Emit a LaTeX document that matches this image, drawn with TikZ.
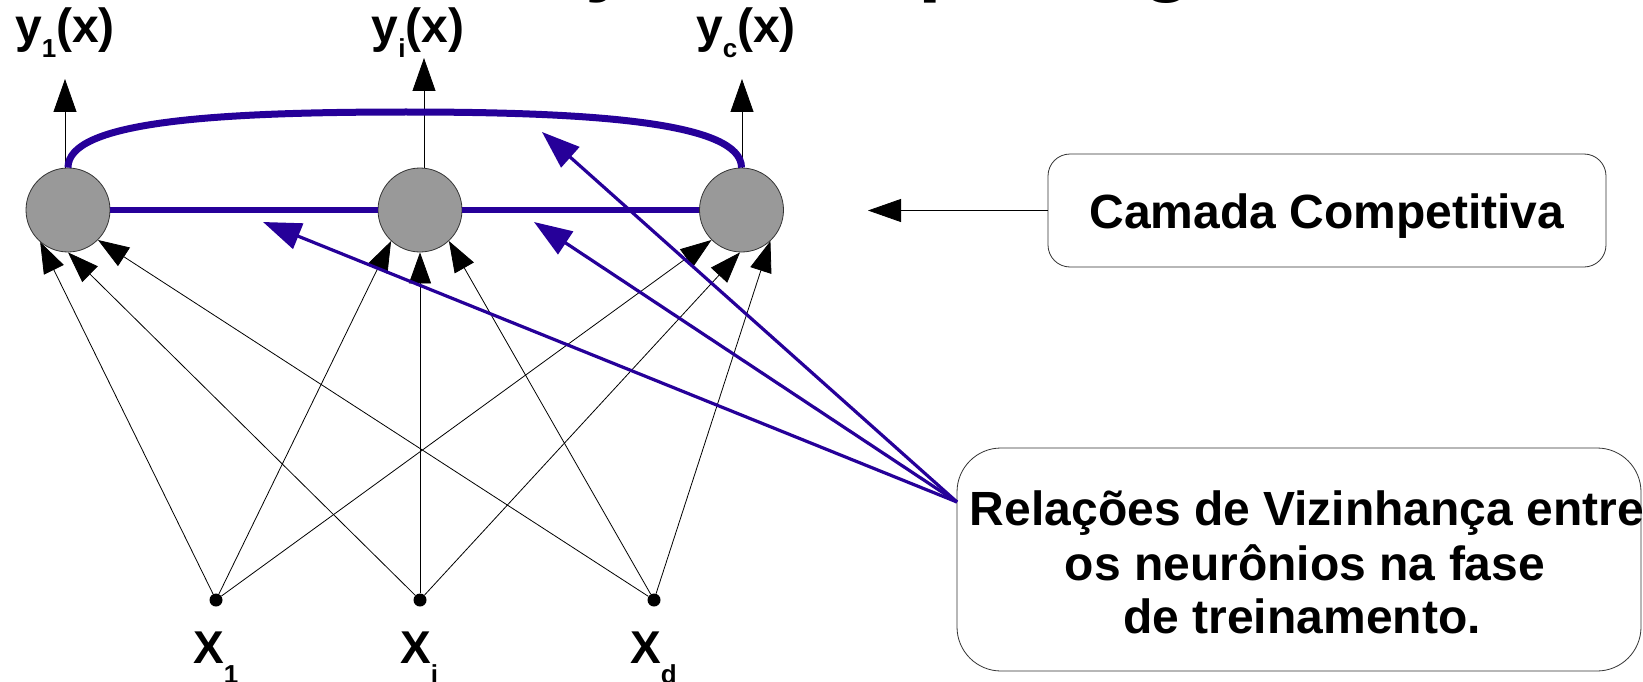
\documentclass[tikz,border=0pt]{standalone}
\usepackage{fontspec}
\setmainfont{Liberation Sans}
\usetikzlibrary{arrows.meta}
\definecolor{nblue}{RGB}{38,0,153}
\definecolor{ngray}{RGB}{153,153,153}
\newcommand{\lowsub}[2]{\raisebox{-#1pt}{\fontsize{26}{26}\selectfont #2}}
\begin{document}
\begin{tikzpicture}[x=1pt,y=-1pt,
  neuron/.style={circle,fill=ngray,draw=black!80,line width=0.8pt,minimum size=84pt,inner sep=0pt},
  indot/.style={circle,fill=black,minimum size=13pt,inner sep=0pt},
  conn/.style={line width=0.8pt,-{Triangle[length=31pt,width=22pt]}},
  outarrow/.style={line width=0.8pt,-{Triangle[length=33pt,width=23pt]}},
  relarrow/.style={nblue,line width=3.2pt,-{Triangle[length=38pt,width=27pt]}},
  link/.style={nblue,line width=6pt},
  lbl/.style={font=\fontsize{48}{54}\selectfont\bfseries,inner sep=0pt,anchor=base},
  ttl/.style={font=\fontsize{85}{90}\selectfont\bfseries,inner sep=0pt,anchor=base west},
  roundbox/.style={draw=black!80,line width=0.8pt,fill=white,inner sep=0pt}
]
\fill[white] (0,0) rectangle (1643,682);
\useasboundingbox (0,0) rectangle (1643,682);

% clipped title fragments
\node[ttl] (t1) at (585,-14.5) {y};
\node[ttl] (t2) at (918,-14.5) {p};
\node[ttl] (t3) at (1141,-14.5) {g};

% neurons
\node[neuron] (n1) at (68,210) {};
\node[neuron] (n2) at (420,210) {};
\node[neuron] (n3) at (741.5,210) {};

% inputs
\node[indot] (x1) at (216,600) {};
\node[indot] (xi) at (420,600) {};
\node[indot] (xd) at (654,600) {};

% output tips
\coordinate (o1) at (65,79);
\coordinate (o2) at (424,58);
\coordinate (o3) at (742,79);

% labels
\node[lbl] (ly1) at (65,43) {y\lowsub{15}{1}(x)};
\node[lbl] (lyi) at (418,43) {y\lowsub{15}{i}(x)};
\node[lbl] (lyc) at (746,43) {y\lowsub{15}{c}(x)};
\node[lbl,anchor=base west,font=\fontsize{46}{50}\selectfont\bfseries] (lx1) at (193,663) {X\lowsub{20}{1}};
\node[lbl,anchor=base west,font=\fontsize{46}{50}\selectfont\bfseries] (lxi) at (400,663) {X\lowsub{20}{i}};
\node[lbl,anchor=base west,font=\fontsize{46}{50}\selectfont\bfseries] (lxd) at (630,663) {X\lowsub{20}{d}};

% output arrows
\draw[outarrow] (n1.north -| o1) -- (o1);
\draw[outarrow] (n2.north -| o2) -- (o2);
\draw[outarrow] (n3.north -| o3) -- (o3);

% input connections
\draw[conn] (x1) -- (n1.229);
\draw[conn] (xi) -- (n1.270);
\draw[conn] (xd) -- (n1.315);
\draw[conn] (x1) -- (n2.227);
\draw[conn] (xi) -- (n2.270);
\draw[conn] (xd) -- (n2.313);
\draw[conn] (x1) -- (n3.225);
\draw[conn] (xi) -- (n3.268);
\draw[conn] (xd) -- (n3.313);

% lateral links
\draw[link] (n1.east) -- (n2.west);
\draw[link] (n2.east) -- (n3.west);
\coordinate (arctop) at (406,112);
\draw[nblue,line width=7pt] (n1.north) .. controls +(0,-45) and +(-200,0) .. (arctop)
  .. controls +(190,0) and +(0,-45) .. (n3.north);

% boxes
\node[roundbox,rounded corners=22pt,minimum width=558pt,minimum height=113pt] (camada) at (1327,210.5) {};
\node[lbl] (camadatxt) at (1327,228) {Camada Competitiva};
\coordinate (ctip) at (868,210.5);
\draw[outarrow] (camada.west) -- (ctip);

\node[roundbox,rounded corners=44pt,minimum width=684pt,minimum height=223pt] (rel) at (1299,559.5) {};
\node[lbl] (r1) at (1307,525) {Relações de Vizinhança entre};
\node[lbl] (r2) at (1305,580) {os neurônios na fase};
\node[lbl] (r3) at (1302,633) {de treinamento.};

% neighbourhood arrows
\coordinate (S) at (957,502);
\coordinate (tA) at (542,132);
\coordinate (tB) at (263,222);
\coordinate (tC) at (534,222);
\draw[relarrow] (S) -- (tA);
\draw[relarrow] (S) -- (tB);
\draw[relarrow] (S) -- (tC);
\end{tikzpicture}
\end{document}
